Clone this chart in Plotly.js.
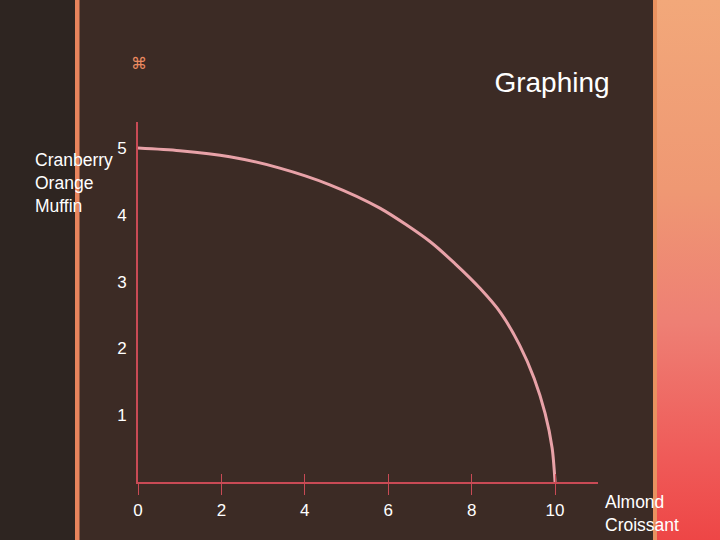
<!DOCTYPE html>
<html>
<head>
<meta charset="utf-8">
<script src="https://cdn.plot.ly/plotly-3.0.1.min.js"></script>
<style>html,body{margin:0;padding:0;background:#3c2b25;}#chart{width:720px;height:540px;}</style>
</head>
<body>
<div id="chart"></div>
<script>
// Data (production possibilities curve)
const almondCroissant = [0, 1.0, 2.2, 3.4, 4.6, 5.8, 7.0, 7.6, 8.2, 8.7, 9.15, 9.5, 9.76, 9.93, 10];
const cranberryMuffin = [5, 4.96, 4.87, 4.70, 4.45, 4.10, 3.60, 3.27, 2.90, 2.53, 2.05, 1.55, 1.03, 0.51, 0];
const xTickVals = [0, 2, 4, 6, 8, 10];
const xTickText = ['0', '2', '4', '6', '8', '10'];
const yTickVals = [1, 2, 3, 4, 5];
const yTickText = ['1', '2', '3', '4', '5'];
const chartTitle = 'Graphing';
const xLabel = 'Almond<br>Croissant';
const yLabel = 'Cranberry<br>Orange<br>Muffin';

const FONT = 'Liberation Sans, Arial, sans-serif';

const gradSvg = '<svg xmlns="http://www.w3.org/2000/svg" width="65" height="540" preserveAspectRatio="none">' +
  '<defs><linearGradient id="g" x1="0" y1="0" x2="0" y2="1">' +
  '<stop offset="0" stop-color="#f2a87a"/><stop offset="0.35" stop-color="#ef9873"/>' +
  '<stop offset="0.6" stop-color="#ee7f74"/><stop offset="0.85" stop-color="#ef5a58"/>' +
  '<stop offset="1" stop-color="#ee4646"/></linearGradient></defs>' +
  '<rect width="65" height="540" fill="url(#g)"/></svg>';
const gradSrc = 'data:image/svg+xml;charset=utf-8,' + encodeURIComponent(gradSvg);

// plot area: x px 138..598, y px 122..482
const px = v => (v - 138) / 460;
const py = v => (482 - v) / 360;

const trace = {
  x: almondCroissant,
  y: cranberryMuffin,
  type: 'scatter',
  mode: 'lines',
  line: {color: '#e8a2a8', width: 3, shape: 'spline', smoothing: 0.8},
  hoverinfo: 'skip',
  showlegend: false
};
const tickTrace = {
  x: [], y: [], xaxis: 'x2', yaxis: 'y', type: 'scatter', showlegend: false
};

const layout = {
  width: 720, height: 540,
  margin: {l: 138, r: 122, t: 122, b: 58, pad: 0},
  paper_bgcolor: '#3c2b25',
  plot_bgcolor: 'rgba(0,0,0,0)',
  font: {family: FONT, color: '#ffffff', size: 17},
  title: {text: chartTitle, font: {family: FONT, size: 28, color: '#ffffff'},
          x: 552 / 720, xanchor: 'center', xref: 'container', y: 1 - 82 / 540, yanchor: 'middle', yref: 'container'},
  xaxis: {
    range: [0, 11.03], tickvals: xTickVals, ticktext: xTickText,
    showline: true, linecolor: '#c94a55', linewidth: 1.5,
    ticks: 'outside', ticklen: 11, tickcolor: '#c94a55', tickwidth: 1,
    ticklabelstandoff: 1,
    showgrid: false, zeroline: false,
    tickfont: {family: FONT, size: 17, color: '#ffffff'}
  },
  xaxis2: {
    range: [0, 11.03], overlaying: 'x', tickvals: xTickVals.slice(1),
    showticklabels: false, ticks: 'inside', ticklen: 8, tickcolor: '#c94a55',
    showgrid: false, zeroline: false, showline: false, side: 'bottom'
  },
  yaxis: {
    range: [0, 5.39], tickvals: yTickVals, ticktext: yTickText,
    showline: true, linecolor: '#c94a55', linewidth: 2,
    ticks: '', ticklabelstandoff: 6,
    showgrid: false, zeroline: false,
    tickfont: {family: FONT, size: 17, color: '#ffffff'}
  },
  shapes: [
    {type: 'rect', xref: 'paper', yref: 'paper', x0: px(0), x1: px(75), y0: py(540), y1: py(0),
     fillcolor: '#2e2521', line: {width: 0}, layer: 'below'},
    {type: 'rect', xref: 'paper', yref: 'paper', x0: px(75), x1: px(79.5), y0: py(540), y1: py(0),
     fillcolor: '#e8845c', line: {width: 0}, layer: 'below'},
    {type: 'rect', xref: 'paper', yref: 'paper', x0: px(653), x1: px(657), y0: py(540), y1: py(0),
     fillcolor: '#e99260', line: {width: 0}, layer: 'below'}
  ],
  images: [
    {source: gradSrc, xref: 'paper', yref: 'paper', x: px(657), y: py(0),
     sizex: (720 - 657) / 460, sizey: 540 / 360, sizing: 'stretch',
     xanchor: 'left', yanchor: 'top', layer: 'below'}
  ],
  annotations: [
    {text: yLabel, xref: 'paper', yref: 'paper', x: px(33), y: py(148), xanchor: 'left', yanchor: 'top',
     showarrow: false, align: 'left', font: {family: FONT, size: 17.5, color: '#ffffff'}},
    {text: xLabel, xref: 'paper', yref: 'paper', x: px(603), y: py(490), xanchor: 'left', yanchor: 'top',
     showarrow: false, align: 'left', font: {family: FONT, size: 17.5, color: '#ffffff'}},
    {text: '⌘', xref: 'paper', yref: 'paper', x: px(139), y: py(64), xanchor: 'center', yanchor: 'middle',
     showarrow: false, font: {family: 'DejaVu Sans, sans-serif', size: 16, color: '#ec8a60'}}
  ]
};

Plotly.newPlot('chart', [trace, tickTrace], layout, {displayModeBar: false, staticPlot: true});
</script>
</body>
</html>
